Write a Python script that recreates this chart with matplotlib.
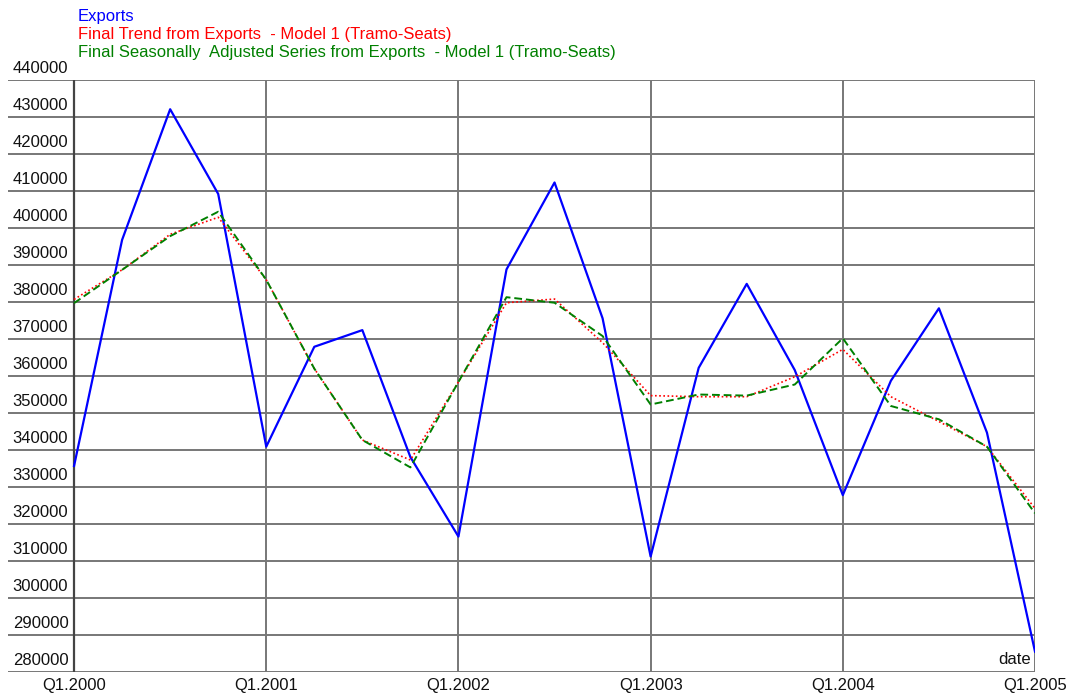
import matplotlib
matplotlib.use("Agg")
import matplotlib.pyplot as plt
import numpy as np

plt.rcParams['font.family'] = ['Liberation Sans', 'DejaVu Sans']

quarters = ["Q1.2000", "Q2.2000", "Q3.2000", "Q4.2000",
            "Q1.2001", "Q2.2001", "Q3.2001", "Q4.2001",
            "Q1.2002", "Q2.2002", "Q3.2002", "Q4.2002",
            "Q1.2003", "Q2.2003", "Q3.2003", "Q4.2003",
            "Q1.2004", "Q2.2004", "Q3.2004", "Q4.2004",
            "Q1.2005"]
exports = [335700, 396800, 432100, 409200,
           340900, 367900, 372400, 338100,
           316600, 388800, 412300, 375600,
           311200, 362200, 384900, 361600,
           327800, 358700, 378300, 344700,
           285500]
trend = [380700, 388700, 398300, 402900,
         386000, 362000, 342700, 337300,
         358400, 379800, 380800, 369000,
         354700, 354400, 354400, 359800,
         367200, 354400, 347700, 340900,
         324200]
seas_adj = [379700, 388700, 397800, 404400,
            386000, 362000, 342700, 335300,
            358400, 381300, 379800, 370800,
            352300, 355000, 354700, 357700,
            370200, 351900, 348300, 340900,
            322900]
year_ticks = ["Q1.2000", "Q1.2001", "Q1.2002", "Q1.2003", "Q1.2004", "Q1.2005"]
y_ticks = list(range(280000, 440001, 10000))

legend_labels = ["Exports",
                 "Final Trend from Exports  - Model 1 (Tramo-Seats)",
                 "Final Seasonally  Adjusted Series from Exports  - Model 1 (Tramo-Seats)"]
legend_colors = ["#0000ff", "#ff0000", "#008000"]

W, H = 1076, 693
fig = plt.figure(figsize=(W / 100, H / 100), dpi=100)
left_px, right_px, top_px, bottom_px = 8, 1035, 80, 672
ax = fig.add_axes([left_px / W, 1 - bottom_px / H,
                   (right_px - left_px) / W, (bottom_px - top_px) / H])

x = np.arange(len(quarters))
x_left = -(74 - left_px) / 48.0
ax.set_xlim(x_left, len(quarters) - 1)
ax.set_ylim(280000, 440000)

fs = 12
grid_col = "#777777"
for v in y_ticks:
    ax.axhline(v, color=grid_col, lw=1.4, zorder=1)
    ax.text(x_left + 0.1, v + 1100, f"{v}", ha="left", va="bottom",
            fontsize=fs, color="#111111")
year_pos = [quarters.index(q) for q in year_ticks]
for xi, lab in zip(year_pos, year_ticks):
    ax.axvline(xi, color="#444444" if xi == 0 else grid_col, lw=1.6 if xi == 0 else 1.4, zorder=1)
    ax.text(xi, 280000 - 1500, lab, ha="center", va="top", fontsize=fs, color="#111111")

ax.plot(x, exports, color="#0000ff", lw=1.6, zorder=3)
ax.plot(x, trend, color="#ff0000", lw=1.2, ls=(0, (1, 1.5)), zorder=4)
ax.plot(x, seas_adj, color="#008000", lw=1.4, ls=(0, (4, 2)), zorder=4)

ax.text(len(quarters) - 1 - 0.08, 281300, "date", ha="right", va="bottom",
        fontsize=fs, color="#111111")

for sp in ax.spines.values():
    sp.set_visible(False)
ax.set_xticks([])
ax.set_yticks([])

for i, (lab, c) in enumerate(zip(legend_labels, legend_colors)):
    fig.text(78 / W, 1 - (16 + 18 * i) / H, lab, color=c, fontsize=fs,
             ha="left", va="center")

fig.savefig("out.png", dpi=100, facecolor="white")
